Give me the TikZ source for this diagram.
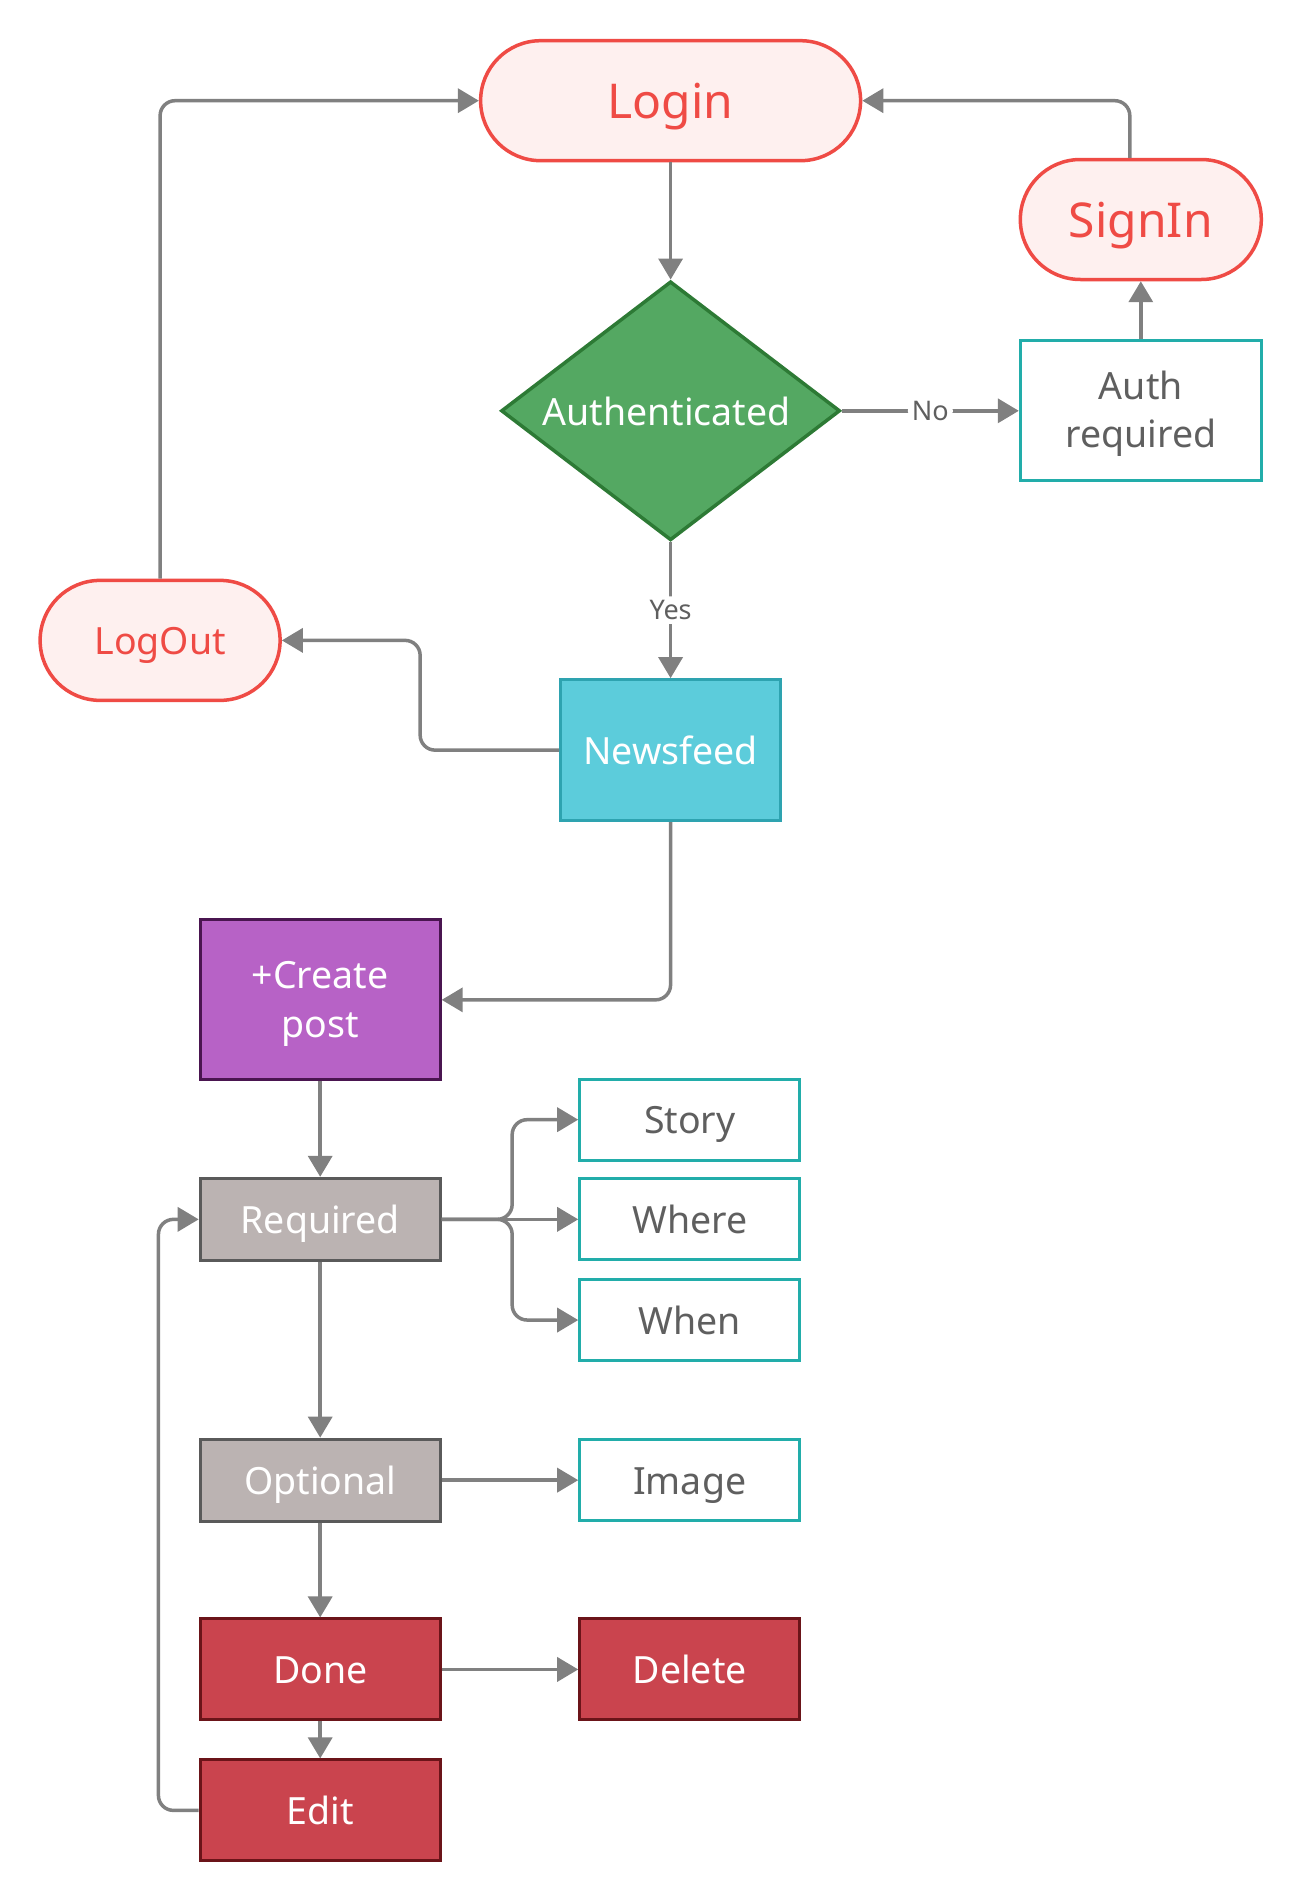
\documentclass[tikz,border=0pt]{standalone}
\usepackage{fontspec}
\setmainfont{Noto Sans}
\usetikzlibrary{shapes.geometric,arrows.meta}
\definecolor{termred}{HTML}{EF4B45}
\definecolor{termfill}{HTML}{FEF0EF}
\definecolor{gfill}{HTML}{54A862}
\definecolor{gdark}{HTML}{2D7A35}
\definecolor{teal}{HTML}{22ADAA}
\definecolor{txtgray}{HTML}{5F5F5F}
\definecolor{nfill}{HTML}{5CCCDB}
\definecolor{ndraw}{HTML}{2EA3B0}
\definecolor{pfill}{HTML}{B762C6}
\definecolor{pdraw}{HTML}{4A1550}
\definecolor{bfill}{HTML}{BBB3B2}
\definecolor{bdraw}{HTML}{5A5A5A}
\definecolor{rfill}{HTML}{CA444E}
\definecolor{rdraw}{HTML}{6B1419}
\definecolor{linegray}{HTML}{808080}
\begin{document}
\begin{tikzpicture}[x=1.007pt,y=-1.007pt,
  base/.style={inner sep=0pt, align=center, font=\fontsize{37.5}{48}\selectfont},
  oneline/.style={text height=28.5pt, text depth=0pt},
  bigline/.style={font=\fontsize{48}{57}\selectfont, text height=36.5pt, text depth=0pt},
  term/.style={base, rectangle, rounded corners=60pt, draw=termred, fill=termfill, line width=3.5pt, text=termred, minimum height=120pt},
  outline/.style={base, rectangle, draw=teal, fill=white, line width=3pt, text=txtgray, minimum width=220pt, minimum height=81pt},
  greybox/.style={base, rectangle, draw=bdraw, fill=bfill, line width=3pt, text=white, minimum width=240pt, minimum height=82pt},
  redbox/.style={base, rectangle, draw=rdraw, fill=rfill, line width=3pt, text=white, minimum height=101pt},
  conn/.style={draw=linegray, line width=3.5pt, -{Triangle[length=21pt,width=24pt]}, rounded corners=15pt},
  lbl/.style={fill=white, inner sep=4pt, text=txtgray, font=\fontsize{27}{32}\selectfont, text height=19.5pt, text depth=0pt}
]
\useasboundingbox (0,0) rectangle (1291,1887);

\node[term, bigline, minimum width=380pt] (login) at (666,100) {Login};
\node[term, bigline, minimum width=241pt] (signin) at (1133,218) {SignIn};
\node[diamond, draw=gdark, fill=gfill, line width=3.5pt, minimum width=339pt, minimum height=259pt, shape aspect=1.31, inner sep=0pt, text=white, font=\fontsize{37.5}{48}\selectfont, oneline] (auth) at (666,408) {Authenticated\kern8pt};
\node[outline, minimum width=241pt, minimum height=140pt] (authreq) at (1133,408) {\rule{0pt}{34pt}Auth\\required};
\node[term, oneline, minimum width=240pt] (logout) at (159,636) {LogOut};
\node[base, oneline, rectangle, draw=ndraw, fill=nfill, line width=3pt, text=white, minimum width=220pt, minimum height=141pt] (news) at (666,745) {Newsfeed};
\node[base, rectangle, draw=pdraw, fill=pfill, line width=3pt, text=white, minimum width=240pt, minimum height=160pt, font=\fontsize{37.5}{49}\selectfont] (create) at (318,993) {\rule{0pt}{35pt}+Create\\post};
\node[greybox, oneline] (req) at (318,1211) {Required};
\node[outline, oneline] (story) at (685,1112) {Story};
\node[outline, oneline] (where) at (685,1211) {Where};
\node[outline, oneline] (when) at (685,1311) {When};
\node[greybox, oneline] (opt) at (318,1470) {Optional};
\node[outline, oneline] (image) at (685,1470) {Image};
\node[redbox, oneline, minimum width=240pt] (done) at (318,1658) {Done};
\node[redbox, oneline, minimum width=220pt] (delete) at (685,1658) {Delete};
\node[redbox, oneline, minimum width=240pt] (edit) at (318,1798) {Edit};

\draw[conn] (login) -- (auth);
\draw[conn] (auth) -- node[lbl]{No} (authreq);
\draw[conn] (auth) -- node[lbl]{Yes} (news);
\draw[conn] (authreq) -- (signin);
\draw[conn] ([xshift=-11pt]signin.north) |- (login.east);
\draw[conn] (logout.north) |- (login.west);
\draw[conn] (news.west) -- ++(-138,0) |- (logout.east);
\draw[conn] (news.south) |- (create.east);
\draw[conn] (create) -- (req);
\draw[conn] (req.east) -- ++(70,0) |- (story.west);
\draw[conn] (req) -- (where);
\draw[conn] (req.east) -- ++(70,0) |- (when.west);
\draw[conn] (req) -- (opt);
\draw[conn] (opt) -- (image);
\draw[conn] (opt) -- (done);
\draw[conn] (done) -- (delete);
\draw[conn] (done) -- (edit);
\draw[conn] (edit.west) -- ++(-40,0) |- (req.west);
\end{tikzpicture}
\end{document}
